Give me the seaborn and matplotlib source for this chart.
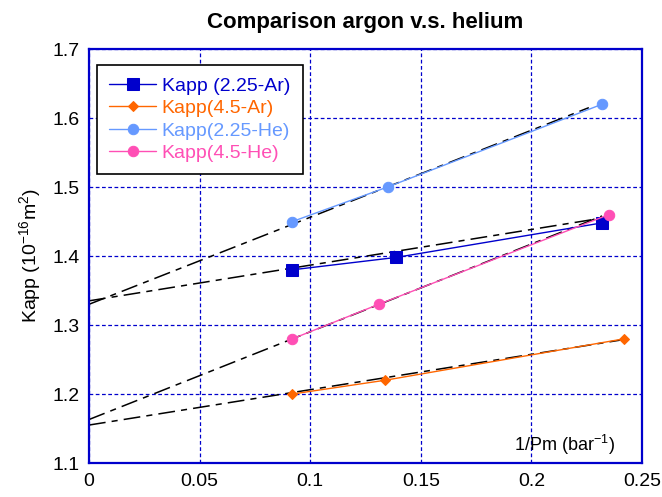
import matplotlib
matplotlib.use("Agg")
import matplotlib.pyplot as plt
import seaborn as sns
import pandas as pd

sns.set_theme(style="white")
plt.rcParams['font.family'] = ['Liberation Sans', 'DejaVu Sans']
plt.rcParams['mathtext.fontset'] = 'custom'
plt.rcParams['mathtext.rm'] = 'Liberation Sans'
plt.rcParams['text.color'] = 'black'
plt.rcParams['axes.labelcolor'] = 'black'

# data
ar225_x = [0.092, 0.139, 0.232]
ar225_y = [1.38, 1.398, 1.448]
ar45_x = [0.092, 0.134, 0.242]
ar45_y = [1.20, 1.22, 1.28]
he225_x = [0.092, 0.135, 0.232]
he225_y = [1.45, 1.50, 1.62]
he45_x = [0.092, 0.131, 0.235]
he45_y = [1.28, 1.33, 1.46]

# fit lines (endpoints)
fit_ar225_x = [0.0, 0.232]
fit_ar225_y = [1.335, 1.455]
fit_ar45_x = [0.0, 0.24]
fit_ar45_y = [1.155, 1.278]
fit_he225_x = [0.0, 0.226]
fit_he225_y = [1.33, 1.615]
fit_he45_x = [0.0, 0.232]
fit_he45_y = [1.163, 1.458]

series = [
    ("Kapp (2.25-Ar)", ar225_x, ar225_y, "#0000CC", "s", 9),
    ("Kapp(4.5-Ar)", ar45_x, ar45_y, "#FF6600", "D", 5),
    ("Kapp(2.25-He)", he225_x, he225_y, "#6699FF", "o", 7.5),
    ("Kapp(4.5-He)", he45_x, he45_y, "#FF4FB5", "o", 7.5),
]
fits = [
    (fit_ar225_x, fit_ar225_y),
    (fit_ar45_x, fit_ar45_y),
    (fit_he225_x, fit_he225_y),
    (fit_he45_x, fit_he45_y),
]

fig = plt.figure(figsize=(6.62, 4.97), dpi=100)
ax = fig.add_axes([0.1344, 0.0684, 0.8353, 0.833])

for fx, fy in fits:
    df = pd.DataFrame({"x": fx, "y": fy})
    sns.lineplot(data=df, x="x", y="y", ax=ax, color="black", linewidth=1.1,
                 linestyle=(0, (11, 4, 4, 4)), legend=False, sort=False)

for name, xs, ys, c, m, ms in series:
    df = pd.DataFrame({"x": xs, "y": ys})
    sns.lineplot(data=df, x="x", y="y", ax=ax, color=c, marker=m, markersize=ms,
                 markeredgecolor=c, linewidth=1.0, label=name, sort=False)

ax.set_xlim(0, 0.25)
ax.set_ylim(1.1, 1.7)
ax.set_xticks([0, 0.05, 0.1, 0.15, 0.2, 0.25])
ax.set_xticklabels(["0", "0.05", "0.1", "0.15", "0.2", "0.25"])
ax.set_yticks([1.1, 1.2, 1.3, 1.4, 1.5, 1.6, 1.7])
ax.set_yticklabels(["1.1", "1.2", "1.3", "1.4", "1.5", "1.6", "1.7"])
ax.tick_params(axis='both', labelsize=14, colors='black', length=0)
ax.tick_params(axis='x', pad=7)
ax.tick_params(axis='y', pad=7)
ax.grid(True, color='#0000CC', linestyle=(0, (3, 2)), linewidth=0.9)
for s in ax.spines.values():
    s.set_color('#0000CC')
    s.set_linewidth(1.6)
    s.set_visible(True)

ax.set_xlabel("")
ax.set_ylabel(r"Kapp (10$^{-16}$m$^{2}$)", fontsize=14, labelpad=6, color='black')
ax.set_title("Comparison argon v.s. helium", fontsize=16, fontweight='bold', pad=15, color='black')
ax.text(0.2378, 1.126, r"1/Pm (bar$^{-1}$)", fontsize=13, ha='right', va='center', color='black')

leg = ax.legend(loc='upper left', bbox_to_anchor=(0.014, 0.962), frameon=True, fancybox=False,
                edgecolor='black', fontsize=14, handlelength=2.4, handletextpad=0.3,
                borderpad=0.65, borderaxespad=0, labelspacing=0.24, framealpha=1)
leg.get_frame().set_linewidth(1.2)
for txt, (name, xs, ys, c, m, ms) in zip(leg.get_texts(), series):
    txt.set_color(c)

fig.savefig("out.png", dpi=100)
